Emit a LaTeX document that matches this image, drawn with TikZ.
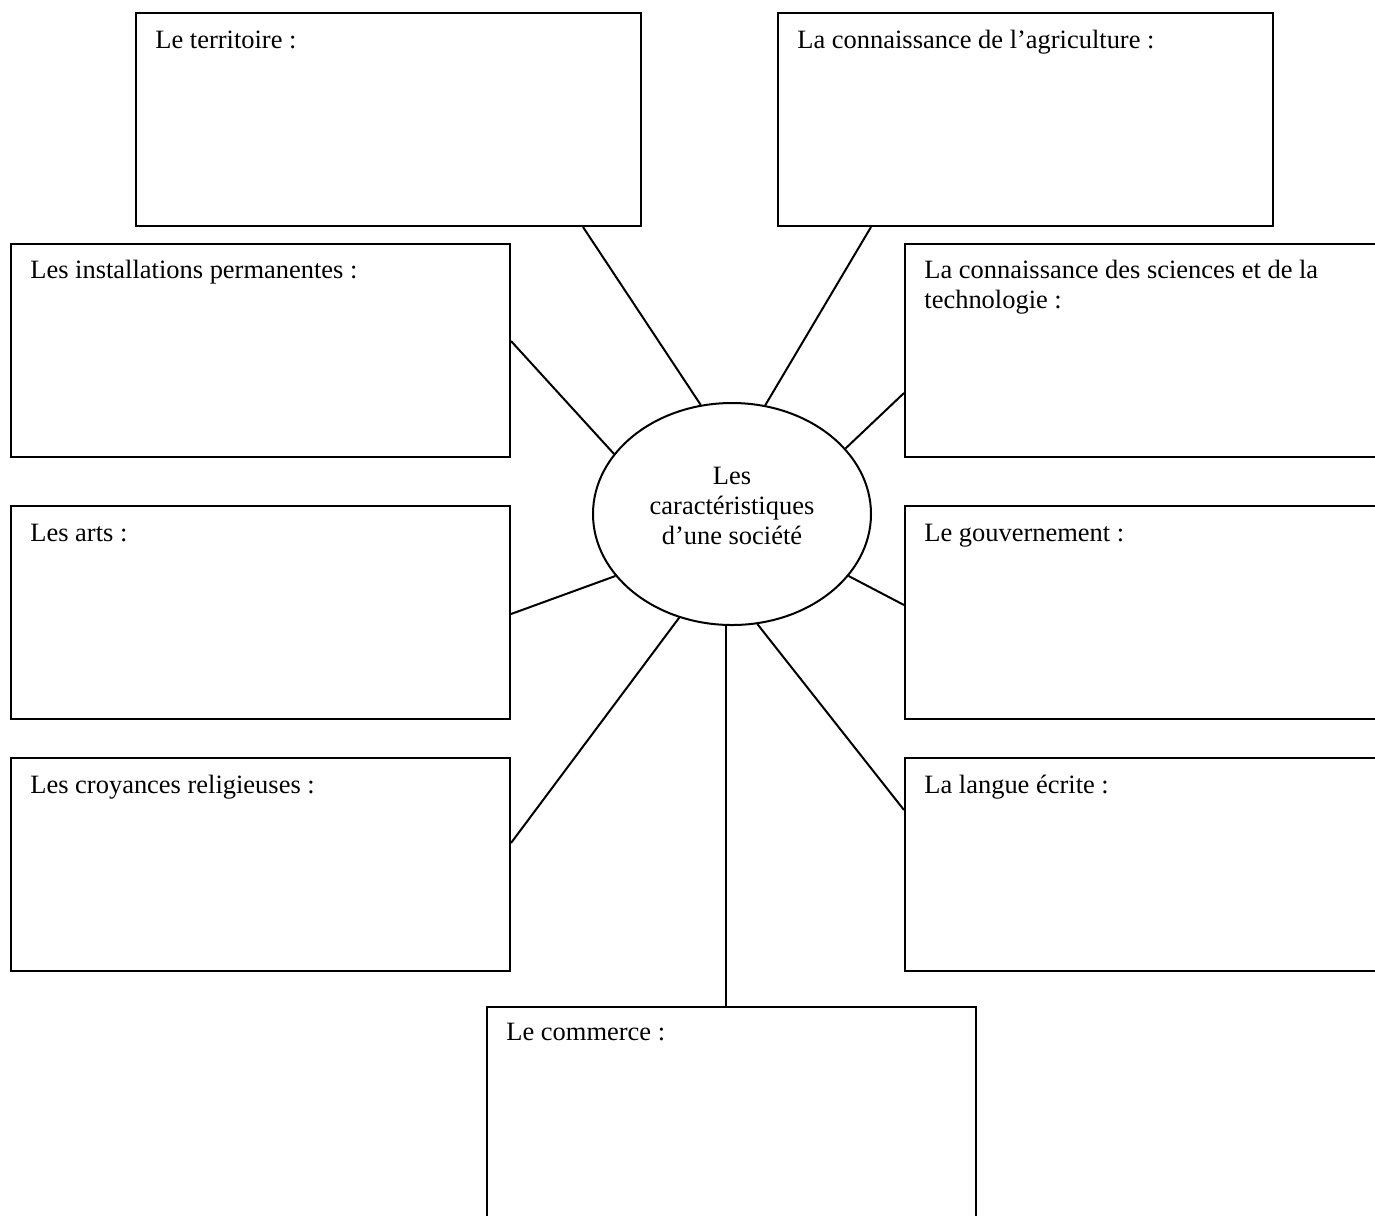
\documentclass[tikz,border=0pt]{standalone}
\usepackage{fontspec}
\setmainfont{Liberation Serif}
\usetikzlibrary{shapes.geometric,calc}
\begin{document}
\begin{tikzpicture}[x=0.48pt,y=-0.48pt,
  box/.style={draw, line width=0.96pt, inner sep=0pt, anchor=north west, minimum height=102.24pt},
  lbl/.style={inner sep=0pt, anchor=base west, font=\fontsize{12.7}{14.4}\selectfont},
  link/.style={line width=0.96pt}]
\useasboundingbox (0,0) rectangle (1375,1215);
\clip (0,0) rectangle (1375,1215);
% boxes
\node[box, minimum width=242.4pt]  (terr) at (135,12)  {};
\node[box, minimum width=237.6pt]  (agri) at (777,12)  {};
\node[box, minimum width=239.52pt] (inst) at (10,243)  {};
\node[box, minimum width=240pt]    (sci)  at (904,243) {};
\node[box, minimum width=239.52pt] (arts) at (10,505)  {};
\node[box, minimum width=240pt]    (gouv) at (904,505) {};
\node[box, minimum width=239.52pt] (croy) at (10,757)  {};
\node[box, minimum width=240pt]    (lang) at (904,757) {};
\node[box, minimum width=234.72pt, minimum height=124.8pt] (comm) at (486,1006) {};
% labels
\node[lbl] (terrT) at ($(terr.north west)+(20,36)$) {Le territoire :};
\node[lbl] (agriT) at ($(agri.north west)+(20,36)$) {La connaissance de l’agriculture :};
\node[lbl] (instT) at ($(inst.north west)+(20,35)$) {Les installations permanentes :};
\node[lbl] (sciT)  at ($(sci.north west)+(20,35)$) {\begin{tabular}[t]{@{}l@{}}La connaissance des sciences et de la\\technologie :\end{tabular}};
\node[lbl] (artsT) at ($(arts.north west)+(20,36)$) {Les arts :};
\node[lbl] (gouvT) at ($(gouv.north west)+(20,36)$) {Le gouvernement :};
\node[lbl] (croyT) at ($(croy.north west)+(20,36)$) {Les croyances religieuses :};
\node[lbl] (langT) at ($(lang.north west)+(20,36)$) {La langue écrite :};
\node[lbl] (commT) at ($(comm.north west)+(20,34)$) {Le commerce :};
% centre
\node[draw, ellipse, line width=0.96pt, inner sep=0pt, minimum width=133.44pt, minimum height=106.56pt] (ell) at (732,514) {};
\node[align=center, inner sep=0pt, font=\fontsize{12.7}{14.6}\selectfont] (ellT) at (732,506) {Les\\caractéristiques\\d’une société};
% connectors
\draw[link] ($(terr.south west)+(448,0)$) -- (ell.106);
\draw[link] ($(agri.south west)+(94,0)$) -- (ell.73);
\draw[link] ($(inst.north east)+(0,98)$) -- (ell.153);
\draw[link] ($(sci.north west)+(0,150)$) -- (ell.30);
\draw[link] ($(arts.north east)+(0,109)$) -- (ell.208);
\draw[link] ($(gouv.north west)+(0,100)$) -- (ell.332);
\draw[link] ($(croy.north east)+(0,86)$) -- (ell.243);
\draw[link] ($(lang.north west)+(0,53)$) -- (ell.283);
\draw[link] (ell.267) -- (ell.267 |- comm.north);
\end{tikzpicture}
\end{document}
